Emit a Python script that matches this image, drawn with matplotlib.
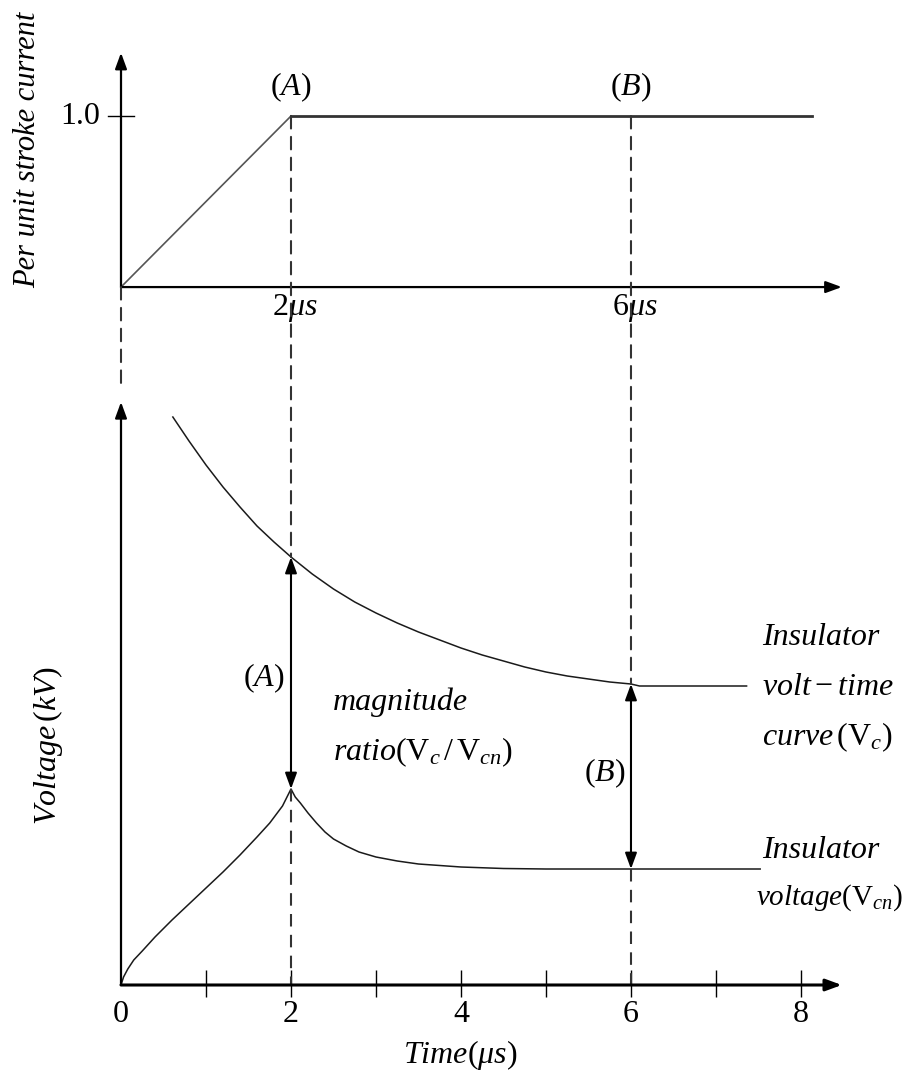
import matplotlib
matplotlib.use('Agg')
import matplotlib.pyplot as plt
import numpy as np
from matplotlib.patches import ConnectionPatch

plt.rcParams['font.family'] = ['Liberation Serif', 'DejaVu Serif']
plt.rcParams['mathtext.fontset'] = 'custom'
plt.rcParams['mathtext.rm'] = 'Liberation Serif'
plt.rcParams['mathtext.it'] = 'Liberation Serif:italic'
plt.rcParams['mathtext.bf'] = 'Liberation Serif:bold'

# per unit stroke current (ramp to crest at 2 us, then flat)
t_cur = [0.0, 2.0, 8.13]
i_cur = [0.0, 1.0, 1.0]

# insulator volt-time curve Vc
t_vc = [0.61, 0.8, 1.0, 1.2, 1.4, 1.6, 1.8, 2.0, 2.25, 2.5, 2.75, 3.0, 3.25,
        3.5, 3.75, 4.0, 4.25, 4.5, 4.75, 5.0, 5.25, 5.5, 5.75, 6.0, 6.1, 7.36]
v_vc = [5.68, 5.44, 5.20, 4.98, 4.78, 4.59, 4.43, 4.28, 4.11, 3.96, 3.83, 3.72,
        3.62, 3.53, 3.45, 3.37, 3.30, 3.24, 3.18, 3.13, 3.09, 3.06, 3.03, 3.01,
        2.99, 2.99]

# insulator voltage Vcn
t_vcn = [0.0, 0.03, 0.08, 0.15, 0.25, 0.4, 0.6, 0.8, 1.0, 1.2, 1.4, 1.6, 1.75,
         1.9, 2.0, 2.05, 2.11, 2.2, 2.3, 2.4, 2.5, 2.65, 2.8, 3.0, 3.25, 3.5,
         4.0, 4.5, 5.0, 7.52]
v_vcn = [0.0, 0.08, 0.16, 0.25, 0.34, 0.48, 0.65, 0.81, 0.97, 1.13, 1.30, 1.48,
         1.62, 1.79, 1.96, 1.88, 1.82, 1.72, 1.62, 1.53, 1.46, 1.39, 1.33, 1.28,
         1.24, 1.21, 1.18, 1.165, 1.16, 1.16]

t_a, t_b = 2.0, 6.0
time_ticks = [1, 2, 3, 4, 5, 6, 7, 8]
time_labels = ['0', '2', '4', '6', '8']

FS = 23
INK = '#1a1a1a'

fig = plt.figure(figsize=(9.2, 10.73), dpi=100)
ax_i = fig.add_axes([40 / 920, 1 - 330 / 1073, 860 / 920, 300 / 1073])
ax_v = fig.add_axes([40 / 920, 1 - 1000 / 1073, 860 / 920, 620 / 1073])
ax_i.set_xlim(-0.953, 9.165)
ax_i.set_ylim(-0.251, 1.503)
ax_v.set_xlim(-0.953, 9.165)
ax_v.set_ylim(-0.15, 6.05)
for ax in (ax_i, ax_v):
    ax.set_axis_off()

axis_arrow = dict(arrowstyle='-|>,head_length=0.6,head_width=0.22', lw=1.6,
                  color='black', mutation_scale=16, shrinkA=0, shrinkB=0)
both_arrow = dict(arrowstyle='<|-|>,head_length=0.6,head_width=0.22', lw=1.5,
                  color='black', mutation_scale=16, shrinkA=0, shrinkB=0)
dash = (0, (6, 4))

# ---- upper panel: stroke current ----
ax_i.annotate('', xy=(0, 1.37), xytext=(0, 0), arrowprops=axis_arrow)
ax_i.annotate('', xy=(8.48, 0), xytext=(0, 0), arrowprops=axis_arrow)
ax_i.plot(t_cur[:2], i_cur[:2], color='#555555', lw=1.2)
ax_i.plot(t_cur[1:], i_cur[1:], color='#333333', lw=2.0)
ax_i.plot([-0.153, 0.153], [1.0, 1.0], color='black', lw=1.0)
ax_i.text(-0.25, 1.0, '1.0', ha='right', va='center', fontsize=FS)
ax_i.text(t_a, 1.17, r'$(A)$', ha='center', va='center', fontsize=FS)
ax_i.text(t_b, 1.17, r'$(B)$', ha='center', va='center', fontsize=FS)
ax_i.text(t_a + 0.05, -0.125, r'$2\mu s$', ha='center', va='center', fontsize=FS)
ax_i.text(t_b + 0.05, -0.125, r'$6\mu s$', ha='center', va='center', fontsize=FS)

# ---- lower panel: voltages ----
ax_v.annotate('', xy=(0, 5.83), xytext=(0, 0), arrowprops=axis_arrow)
ax_v.annotate('', xy=(8.48, 0), xytext=(0, 0),
              arrowprops={**axis_arrow, 'lw': 2.2})
ax_v.vlines(time_ticks, -0.12, 0.15, color='black', lw=1.0)
for k, lab in enumerate(time_labels):
    ax_v.text(2 * k, -0.29, lab, ha='center', va='center', fontsize=FS)

ax_v.plot(t_vc, v_vc, color=INK, lw=1.1)
ax_v.plot(t_vcn, v_vcn, color=INK, lw=1.1)

vc_a, vc_b = np.interp([t_a, t_b], t_vc, v_vc)
vn_a, vn_b = np.interp([t_a, t_b], t_vcn, v_vcn)
ax_v.annotate('', xy=(t_a, vn_a), xytext=(t_a, vc_a), arrowprops=both_arrow)
ax_v.annotate('', xy=(t_b, vn_b), xytext=(t_b, vc_b), arrowprops=both_arrow)
ax_v.plot([t_a, t_a], [vn_a, 0], color='#333333', lw=1.5, ls=dash)
ax_v.plot([t_b, t_b], [vn_b, 0], color='#333333', lw=1.5, ls=dash)

# dashed guides running from the current plot down to the voltage plot
for xa, ya, yb in [(0, 0, 6.0), (t_a, 1.0, vc_a), (t_b, 1.0, vc_b)]:
    con = ConnectionPatch(xyA=(xa, ya), coordsA=ax_i.transData,
                          xyB=(xa, yb), coordsB=ax_v.transData,
                          color='#333333', lw=1.5, linestyle=dash)
    fig.add_artist(con)

ax_v.text(1.92, 3.07, r'$(A)$', ha='right', va='center', fontsize=FS)
ax_v.text(2.49, 2.83, 'magnitude', style='italic', ha='left', va='center', fontsize=FS)
ax_v.text(2.49, 2.33, r'$ratio(\mathrm{V}_c\,/\,\mathrm{V}_{cn})$', ha='left',
          va='center', fontsize=FS)
ax_v.text(5.93, 2.12, r'$(B)$', ha='right', va='center', fontsize=FS)
ax_v.text(7.54, 3.48, 'Insulator', style='italic', ha='left', va='center', fontsize=FS)
ax_v.text(7.54, 2.98, r'$volt-time$', ha='left', va='center', fontsize=FS)
ax_v.text(7.54, 2.48, r'$curve\,(\mathrm{V}_c)$', ha='left', va='center', fontsize=FS)
ax_v.text(7.54, 1.35, 'Insulator', style='italic', ha='left', va='center', fontsize=FS)
ax_v.text(7.47, 0.87, r'$voltage(\mathrm{V}_{cn})$', ha='left', va='center', fontsize=21)

fig.text(28 / 920, 1 - 150 / 1073, 'Per unit stroke current', style='italic',
         rotation=90, ha='center', va='center', fontsize=22)
fig.text(48 / 920, 1 - 745 / 1073, r'$Voltage\,(kV)$', rotation=90,
         ha='center', va='center', fontsize=FS)
fig.text(460 / 920, 1 - 1055 / 1073, r'$Time(\mu s)$', ha='center', va='center',
         fontsize=FS)

fig.savefig('out.png', dpi=100, facecolor='white')
